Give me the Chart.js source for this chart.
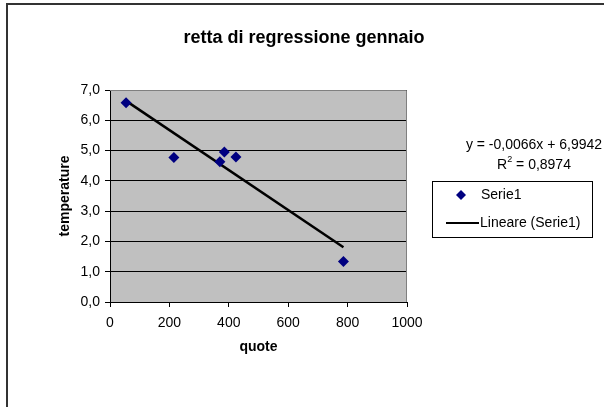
<!DOCTYPE html>
<html>
<head>
<meta charset="utf-8">
<script src="https://cdn.jsdelivr.net/npm/chart.js@4/dist/chart.umd.min.js"></script>
<style>
  html, body { margin: 0; padding: 0; background: #fff; }
  #wrap { width: 604px; height: 407px; }
</style>
</head>
<body>
<div id="wrap"><canvas id="chart" width="604" height="407"></canvas></div>
<script>
const TITLE = "retta di regressione gennaio";
const X_TITLE = "quote";
const Y_TITLE = "temperature";
const SERIES_LABEL = "Serie1";
const TREND_LABEL = "Lineare (Serie1)";
const EQUATION = "y = -0,0066x + 6,9942";
const R2_TEXT = " = 0,8974";

// points
const QUOTE = [54, 215, 370, 385, 424, 786];
const TEMPERATURE = [6.58, 4.77, 4.63, 4.95, 4.79, 1.34];

// trend line end points
const TREND_X = [54, 786];
const TREND_Y = [6.64, 1.81];

const X_TICKS = [0, 200, 400, 600, 800, 1000];
const Y_TICKS = ["0,0", "1,0", "2,0", "3,0", "4,0", "5,0", "6,0", "7,0"];

const FONT = "'Liberation Sans', Arial, sans-serif";
const NAVY = "#000080";
const PLOT_BG = "#C0C0C0";

const decorations = {
  id: "decorations",
  beforeDraw(chart) {
    const { ctx, chartArea: a } = chart;
    ctx.save();
    ctx.fillStyle = PLOT_BG;
    ctx.fillRect(a.left, a.top, a.right - a.left, a.bottom - a.top);
    ctx.restore();
  },
  beforeDatasetsDraw(chart) {
    const { ctx, chartArea: a } = chart;
    ctx.save();
    ctx.strokeStyle = "#808080";
    ctx.lineWidth = 1;
    ctx.beginPath();
    ctx.moveTo(a.left, Math.round(a.top) + 0.5);
    ctx.lineTo(Math.round(a.right) - 0.5, Math.round(a.top) + 0.5);
    ctx.lineTo(Math.round(a.right) - 0.5, a.bottom);
    ctx.stroke();
    ctx.restore();
  },
  afterDraw(chart) {
    const { ctx } = chart;
    ctx.save();

    // chart frame
    ctx.strokeStyle = "#333";
    ctx.lineWidth = 2;
    ctx.beginPath();
    ctx.moveTo(7, 410);
    ctx.lineTo(7, 4);
    ctx.lineTo(610, 4);
    ctx.stroke();

    // title
    ctx.fillStyle = "#000";
    ctx.font = `bold 18px ${FONT}`;
    ctx.textAlign = "center";
    ctx.textBaseline = "middle";
    ctx.fillText(TITLE, 304, 38);

    // trendline equation
    ctx.font = `14px ${FONT}`;
    ctx.fillText(EQUATION, 534, 145);
    const rW = ctx.measureText("R").width;
    const restW = ctx.measureText(R2_TEXT).width;
    ctx.font = `9px ${FONT}`;
    const supW = ctx.measureText("2").width;
    let x = 534 - (rW + supW + restW) / 2;
    ctx.textAlign = "left";
    ctx.font = `14px ${FONT}`;
    ctx.fillText("R", x, 165);
    ctx.font = `9px ${FONT}`;
    ctx.fillText("2", x + rW, 160);
    ctx.font = `14px ${FONT}`;
    ctx.fillText(R2_TEXT, x + rW + supW, 165);

    // legend
    ctx.strokeStyle = "#000";
    ctx.lineWidth = 1;
    ctx.strokeRect(432.5, 181.5, 160, 56);
    ctx.fillStyle = NAVY;
    ctx.beginPath();
    ctx.moveTo(461, 190);
    ctx.lineTo(466, 195);
    ctx.lineTo(461, 200);
    ctx.lineTo(456, 195);
    ctx.closePath();
    ctx.fill();
    ctx.fillStyle = "#000";
    ctx.fillText(SERIES_LABEL, 481, 195);
    ctx.lineWidth = 2;
    ctx.beginPath();
    ctx.moveTo(446, 223);
    ctx.lineTo(479, 223);
    ctx.stroke();
    ctx.fillText(TREND_LABEL, 480, 223);
    ctx.restore();
  }
};

new Chart(document.getElementById("chart"), {
  type: "scatter",
  data: {
    datasets: [
      {
        label: SERIES_LABEL,
        data: QUOTE.map((q, i) => ({ x: q, y: TEMPERATURE[i] })),
        pointStyle: "rectRot",
        pointRadius: 5.5,
        backgroundColor: NAVY,
        borderColor: NAVY,
        borderWidth: 0,
        order: 1
      },
      {
        type: "line",
        label: TREND_LABEL,
        data: TREND_X.map((q, i) => ({ x: q, y: TREND_Y[i] })),
        borderColor: "#000",
        borderWidth: 2.5,
        pointRadius: 0,
        fill: false,
        order: 2
      }
    ]
  },
  options: {
    responsive: false,
    devicePixelRatio: 1,
    animation: false,
    layout: { padding: { top: 90, right: 197, bottom: 0, left: 0 } },
    plugins: { legend: { display: false }, title: { display: false }, tooltip: { enabled: false } },
    scales: {
      x: {
        type: "linear",
        min: 0,
        max: 1000,
        afterBuildTicks: scale => { scale.ticks = X_TICKS.map(v => ({ value: v })); },
        afterFit: scale => { scale.height = 105; },
        ticks: { color: "#000", padding: 8, font: { family: FONT, size: 14 }, callback: value => String(value) },
        grid: { drawOnChartArea: false, drawTicks: true, tickLength: 5, color: "#000" },
        border: { color: "#000", width: 1 },
        title: { display: true, text: X_TITLE, color: "#000", font: { family: FONT, size: 14, weight: "bold" }, padding: { top: 0, bottom: 51 } }
      },
      y: {
        min: 0,
        max: 7,
        ticks: {
          stepSize: 1,
          color: "#000",
          padding: 5,
          font: { family: FONT, size: 14 },
          callback: value => Y_TICKS[value]
        },
        afterFit: scale => { scale.width = 110; },
        grid: { drawTicks: true, tickLength: 5, color: "#000", lineWidth: 1 },
        border: { color: "#000", width: 1 },
        title: { display: true, text: Y_TITLE, color: "#000", font: { family: FONT, size: 14, weight: "bold" }, padding: { top: 57, bottom: 0 } }
      }
    }
  },
  plugins: [decorations]
});
</script>
</body>
</html>
